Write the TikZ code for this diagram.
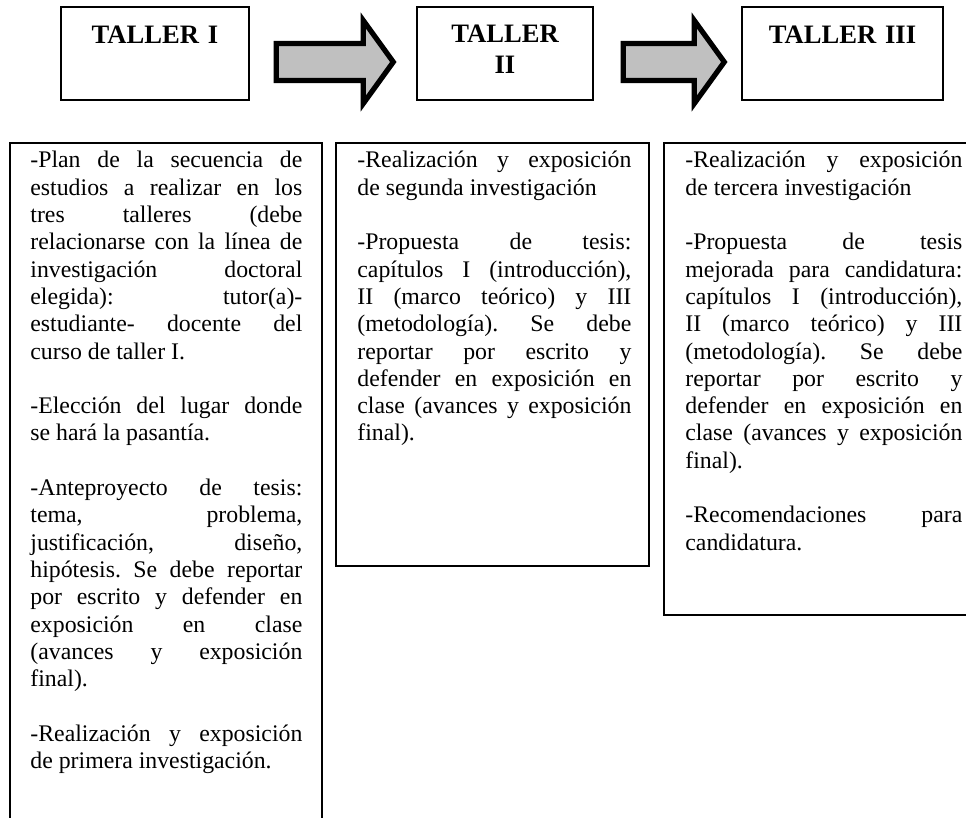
\documentclass[tikz,border=0pt]{standalone}
\usepackage{fontspec}
\setmainfont{Liberation Serif}
\usetikzlibrary{calc}
\definecolor{grisflecha}{HTML}{C0C0C0}
\newcommand{\espacio}{\par\vspace{\baselineskip}}
\newcommand{\ajustes}{\frenchspacing\hyphenpenalty=10000 \exhyphenpenalty=10000 \tolerance=10000\relax}
% flecha gruesa entre dos talleres
\newcommand{\flecha}[2]{%
 \draw[flechagruesa] ($(#1)+(0,-18.5)$) -- ($(#2)+(-30,-18.5)$) -- ($(#2)+(-30,-41.5)$) -- (#2)
  -- ($(#2)+(-30,41.5)$) -- ($(#2)+(-30,18.5)$) -- ($(#1)+(0,18.5)$) -- cycle;}
\tikzset{
 caja/.style={draw, line width=0.7pt, minimum width=#1, minimum height=46.5pt, inner sep=0pt},
 titulo/.style={anchor=base, text width=80pt, align=center, inner sep=0pt,
  font=\fontsize{13.3}{15.5}\selectfont\bfseries},
 panel/.style={draw, line width=0.8pt},
 texto/.style={anchor=base west, text width=#1, align=justify, inner sep=0pt,
  font=\fontsize{11.9}{13.65}\selectfont\ajustes},
 flechagruesa/.style={draw=black, fill=grisflecha, line width=2.6pt, line join=miter}
}
\begin{document}
\begin{tikzpicture}[x=0.5pt, y=-0.5pt]
 \useasboundingbox (0,0) rectangle (966,818);
 \fill[white] (0,0) rectangle (966,818);
 \node[caja=94pt] (t1) at (155,53.5) {};
 \node[caja=88pt] (t2) at (505,53.5) {};
 \node[caja=100.5pt] (t3) at (842.5,53.5) {};
 \node[titulo] (n1) at ($(t1.north)+(0,37)$) {TALLER I};
 \node[titulo, text width=60pt] (n2) at ($(t2.north)+(0,36)$) {TALLER\\II};
 \node[titulo] (n3) at ($(t3.north)+(0,37)$) {TALLER III};
 \coordinate (a1s) at ($(t1.east)+(26.5,8.5)$);
 \coordinate (a1e) at ($(t2.west)+(-23,8.5)$);
 \coordinate (a2s) at ($(t2.east)+(29.5,8.5)$);
 \coordinate (a2e) at ($(t3.west)+(-17,8.5)$);
 \flecha{a1s}{a1e}
 \flecha{a2s}{a2e}
 \draw[panel] (10,143) rectangle (322,840);
 \draw[panel] (336,143) rectangle (649,566);
 \draw[panel] (664,143) rectangle (995,615);
 \node[texto=136pt] (p1) at (30,168) {-Plan de la secuencia de\linebreak estudios a realizar en los\linebreak tres talleres (debe\linebreak relacionarse con la línea de\linebreak investigación doctoral\linebreak elegida): tutor(a)-\linebreak estudiante- docente del\linebreak curso de taller I.\espacio
 -Elección del lugar donde\linebreak se hará la pasantía.\espacio
 -Anteproyecto de tesis:\linebreak tema, problema,\linebreak justificación, diseño,\linebreak hipótesis. Se debe reportar\linebreak por escrito y defender en\linebreak exposición en clase\linebreak (avances y exposición\linebreak final).\espacio
 -Realización y exposición\linebreak de primera investigación.};
 \node[texto=137pt] (p2) at (357,168) {-Realización y exposición\linebreak de segunda investigación\espacio
 -Propuesta de tesis:\linebreak capítulos I (introducción),\linebreak II (marco teórico) y III\linebreak (metodología). Se debe\linebreak reportar por escrito y\linebreak defender en exposición en\linebreak clase (avances y exposición\linebreak final).};
 \node[texto=138.5pt] (p3) at (685,168) {-Realización y exposición\linebreak de tercera investigación\espacio
 -Propuesta de tesis\linebreak mejorada para candidatura:\linebreak capítulos I (introducción),\linebreak II (marco teórico) y III\linebreak (metodología). Se debe\linebreak reportar por escrito y\linebreak defender en exposición en\linebreak clase (avances y exposición\linebreak final).\espacio
 -Recomendaciones para\linebreak candidatura.};
\end{tikzpicture}
\end{document}
